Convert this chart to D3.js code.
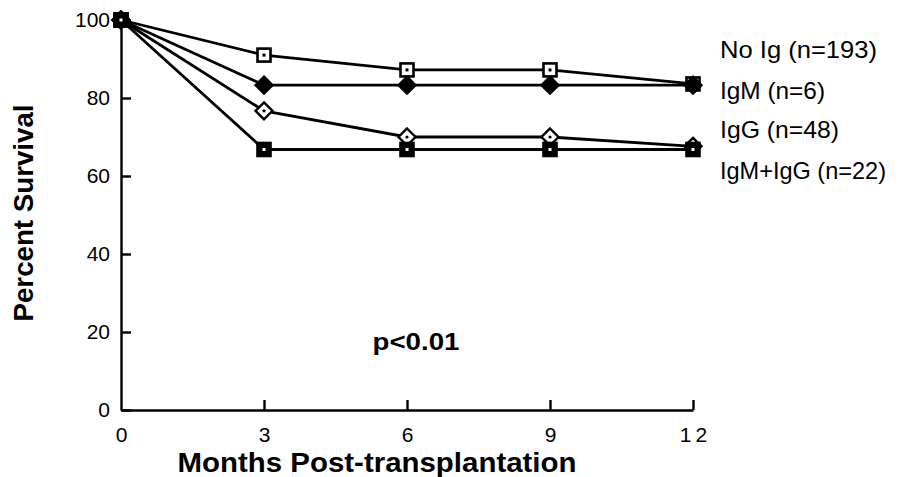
<!DOCTYPE html>
<html>
<head>
<meta charset="utf-8">
<script src="https://cdn.jsdelivr.net/npm/d3@7"></script>
<style>
  body { margin: 0; background: #fff; }
  svg { display: block; }
  text { font-family: "Liberation Sans", Arial, sans-serif; fill: #000; }
  .tick text { font-size: 21px; }
</style>
</head>
<body>
<div id="chart"></div>
<script>
// survival data
var months = [0, 3, 6, 9, 12];
var noIg = [100, 91, 87.2, 87.2, 83.6];
var igM = [100, 83.3, 83.3, 83.3, 83.3];
var igG = [100, 76.7, 70, 70, 67.6];
var igMG = [100, 66.8, 66.8, 66.8, 66.8];

var seriesNames = ['No Ig (n=193)', 'IgM (n=6)', 'IgG (n=48)', 'IgM+IgG (n=22)'];
var xTicks = [0, 3, 6, 9, 12];
var yTicks = [0, 20, 40, 60, 80, 100];

var W = 902, H = 477;
var svg = d3.select('#chart').append('svg').attr('width', W).attr('height', H);

var x = d3.scaleLinear().domain([0, 12]).range([121, 693]);
var y = d3.scaleLinear().domain([0, 100]).range([410, 20]);

// axes (ticks point inward)
var yAxis = d3.axisLeft(y).tickValues(yTicks).tickSize(-10).tickSizeOuter(0).tickPadding(11);
var xAxis = d3.axisBottom(x).tickValues(xTicks).tickSize(-10).tickSizeOuter(0).tickPadding(17);

var gy = svg.append('g').attr('transform', 'translate(' + x(0) + ',0)').call(yAxis);
var gx = svg.append('g').attr('transform', 'translate(0,' + y(0) + ')').call(xAxis);

[gy, gx].forEach(function(g) {
  g.attr('font-size', 21).attr('font-family', null);
  g.select('.domain').attr('stroke', '#000').attr('stroke-width', 2.4);
  g.selectAll('.tick line').attr('stroke', '#000').attr('stroke-width', 2.4);
  g.selectAll('.tick text').attr('font-size', 21).attr('fill', '#000');
});
gx.selectAll('.tick line').filter(function(d) { return d === 0; }).remove();
gx.selectAll('.tick text').filter(function(d) { return d === 12; }).attr('letter-spacing', '4px').attr('dx', '2px');

var line = d3.line()
  .x(function(d) { return x(d[0]); })
  .y(function(d) { return y(d[1]); });

var allSeries = [noIg, igM, igG, igMG].map(function(vals) {
  return months.map(function(m, i) { return [m, vals[i]]; });
});

allSeries.forEach(function(s) {
  svg.append('path')
    .datum(s)
    .attr('d', line)
    .attr('fill', 'none')
    .attr('stroke', '#000')
    .attr('stroke-width', 2.8);
});

// markers
function drawSquare(g, px, py, filled) {
  g.append('rect')
    .attr('x', px - 6.5).attr('y', py - 6.5)
    .attr('width', 13).attr('height', 13)
    .attr('fill', filled ? '#000' : '#fff')
    .attr('stroke', '#000').attr('stroke-width', 2.6);
  g.append('rect')
    .attr('x', px - 1.5).attr('y', py - 1.5)
    .attr('width', 3).attr('height', 3)
    .attr('fill', filled ? '#fff' : '#000');
}
function drawDiamond(g, px, py, filled) {
  var r = 8.5;
  g.append('path')
    .attr('d', 'M' + px + ',' + (py - r) + 'L' + (px + r) + ',' + py + 'L' + px + ',' + (py + r) + 'L' + (px - r) + ',' + py + 'Z')
    .attr('fill', filled ? '#000' : '#fff')
    .attr('stroke', '#000').attr('stroke-width', 2.4);
  if (!filled) {
    g.append('circle').attr('cx', px).attr('cy', py).attr('r', 1.6).attr('fill', '#000');
  }
}

var mk = svg.append('g');
var markerFns = [
  function(px, py) { drawSquare(mk, px, py, false); },
  function(px, py) { drawDiamond(mk, px, py, true); },
  function(px, py) { drawDiamond(mk, px, py, false); },
  function(px, py) { drawSquare(mk, px, py, true); }
];
allSeries.forEach(function(s, si) {
  s.forEach(function(d) {
    markerFns[si](x(d[0]), y(d[1]));
  });
});

// legend text
var legendY = [58, 99, 138, 179];
var legendW = [157, 105, 119, 166];
svg.selectAll('.legend')
  .data(seriesNames)
  .enter().append('text')
  .attr('class', 'legend')
  .attr('x', 720)
  .attr('y', function(d, i) { return legendY[i]; })
  .attr('textLength', function(d, i) { return legendW[i]; })
  .attr('lengthAdjust', 'spacingAndGlyphs')
  .style('font-size', '24px')
  .text(function(d) { return d; });

// p value
svg.append('text')
  .attr('x', 416).attr('y', 350)
  .attr('text-anchor', 'middle')
  .attr('textLength', 87)
  .attr('lengthAdjust', 'spacingAndGlyphs')
  .style('font-size', '24px').style('font-weight', 'bold')
  .text('p<0.01');

// axis titles
svg.append('text')
  .attr('x', 377).attr('y', 472)
  .attr('text-anchor', 'middle')
  .attr('textLength', 399)
  .attr('lengthAdjust', 'spacingAndGlyphs')
  .style('font-size', '27px').style('font-weight', 'bold')
  .text('Months Post-transplantation');

svg.append('text')
  .attr('transform', 'translate(33,213) rotate(-90)')
  .attr('text-anchor', 'middle')
  .attr('textLength', 217)
  .attr('lengthAdjust', 'spacingAndGlyphs')
  .style('font-size', '28px').style('font-weight', 'bold')
  .text('Percent Survival');
</script>
</body>
</html>
